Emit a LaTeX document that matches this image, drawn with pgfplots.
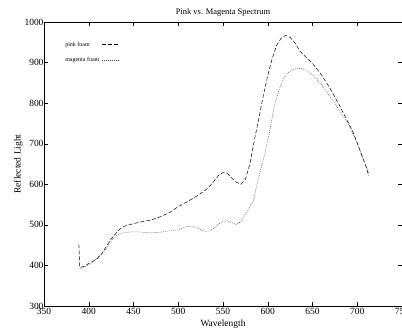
\documentclass[border=0pt]{standalone}
\usepackage{pgfplots}
\pgfplotsset{compat=1.18}
\usepackage{fontspec}
\setmainfont{Liberation Serif}
\begin{document}
\begin{tikzpicture}
\useasboundingbox (-44bp,-24bp) rectangle (358bp,306bp);
\begin{axis}[
  scale only axis,
  width=358bp, height=284bp,
  xmin=350, xmax=750, ymin=300, ymax=1000,
  xtick={350,400,...,750},
  ytick={300,400,...,1000},
  tick align=inside,
  major tick length=4bp,
  tick style={black, line width=0.4pt},
  axis line style={line width=0.5pt},
  /pgf/number format/assume math mode=true,
  /pgf/number format/1000 sep={},
  tick label style={font=\fontsize{9.5}{10}\selectfont},
  xticklabel style={yshift=1.5bp},
  yticklabel style={xshift=3bp},
  title={Pink vs. Magenta Spectrum},
  title style={font=\fontsize{8.5}{9}\selectfont, yshift=-4bp},
  xlabel={Wavelength},
  ylabel={Reflected Light},
  label style={font=\fontsize{9.5}{10}\selectfont},
  xlabel style={yshift=1bp},
  ylabel style={yshift=-5bp},
  legend style={draw=none, fill=none, at={(0.045,0.945)}, anchor=north west,
    font=\fontsize{6}{6.5}\selectfont, row sep=6bp},
  legend cell align=left,
  legend plot pos=right,
]
\addplot[black, line width=0.5pt, dash pattern=on 4bp off 2bp] coordinates {
(389,452) (390,395) (395,398) (400,405) (405,410) (410,418) (415,430) (420,448) (425,465)
(430,478) (435,490) (440,497) (445,500) (450,503) (460,508) (470,512) (480,520)
(490,530) (500,545) (510,557) (520,570) (530,585) (535,595) (540,608) (545,622) (550,629)
(555,626) (560,615) (565,605) (570,600) (575,612) (580,650) (585,708) (590,762)
(595,818) (600,868) (605,910) (610,943) (615,960) (620,967) (625,962) (630,950)
(636,928) (642,915) (650,898) (660,870) (670,835) (680,795) (690,752) (695,730)
(700,702) (705,672) (710,642) (713,620)
};
\addlegendentry{pink foam}
\addplot[black!75, line width=0.5pt, dash pattern=on 0.8bp off 1.2bp] coordinates {
(390,392) (395,396) (400,402) (405,410) (410,420) (415,430) (420,442) (425,460)
(430,472) (435,478) (440,481) (450,483) (460,482) (470,480) (480,482) (490,485)
(500,488) (505,492) (510,496) (515,497) (520,493) (525,488) (530,484) (535,485)
(540,492) (545,502) (550,509) (555,510) (560,505) (565,501) (570,508) (575,527)
(580,545) (584,561) (588,600) (592,635) (597,677) (603,742) (608,800) (614,841)
(618,862) (622,874) (628,883) (634,886) (640,884) (645,878) (650,870) (660,846)
(670,815) (680,783) (690,747) (695,725) (700,700) (705,672) (710,645) (713,625)
};
\addlegendentry{magenta foam}
\end{axis}
\end{tikzpicture}
\end{document}
